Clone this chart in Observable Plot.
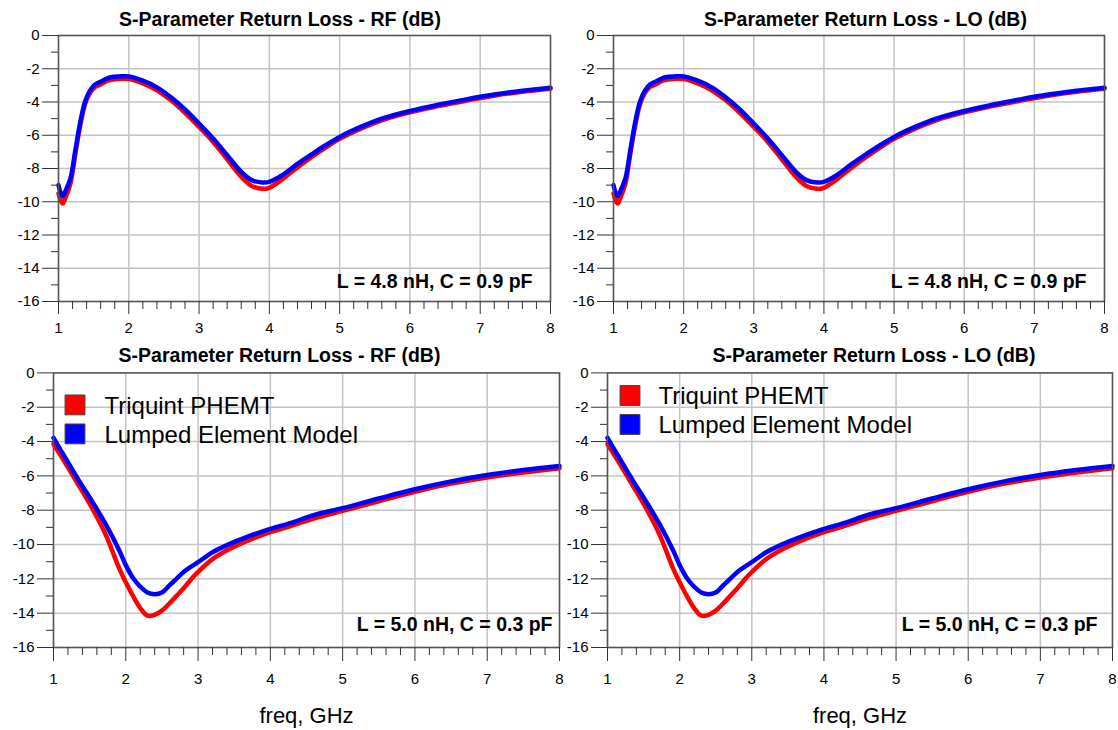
<!DOCTYPE html>
<html><head><meta charset="utf-8">
<script src="https://cdn.jsdelivr.net/npm/d3@7"></script>
<script src="https://cdn.jsdelivr.net/npm/@observablehq/plot@0.6"></script>
<style>
body{margin:0;background:#fff;}
#wrap{position:relative;width:1118px;height:730px;overflow:hidden;background:#fff;}
#wrap svg{position:absolute;}
</style></head><body><div id="wrap"></div>
<script>
// ---- data ----
const seriesNames = ["Triquint PHEMT", "Lumped Element Model"];
const seriesColors = ["#ff0000", "#0000ff"];

// upper row: L = 4.8 nH, C = 0.9 pF
const topFreq = [1.0, 1.03, 1.06, 1.1, 1.17, 1.24, 1.31, 1.38, 1.45, 1.52, 1.6, 1.7, 1.8, 1.9, 2.0, 2.2, 2.4, 2.6, 2.8, 3.0, 3.2, 3.4, 3.6, 3.75, 3.9, 4.0, 4.2, 4.4, 4.6, 4.8, 5.0, 5.3, 5.6, 6.0, 6.4, 6.8, 7.2, 7.6, 8.0];
const topMeasured = [-9.5, -9.9, -10.1, -9.75, -8.9, -7.1, -5.4, -4.1, -3.45, -3.1, -2.94, -2.72, -2.64, -2.6, -2.62, -2.88, -3.3, -3.9, -4.65, -5.5, -6.4, -7.45, -8.5, -9.05, -9.22, -9.16, -8.6, -7.93, -7.32, -6.75, -6.22, -5.6, -5.1, -4.62, -4.25, -3.92, -3.62, -3.38, -3.2];
const topModel    = [-9.0, -9.45, -9.65, -9.35, -8.6, -6.9, -5.2, -3.95, -3.3, -2.95, -2.78, -2.56, -2.48, -2.45, -2.46, -2.72, -3.12, -3.72, -4.45, -5.3, -6.2, -7.2, -8.2, -8.7, -8.84, -8.8, -8.35, -7.72, -7.15, -6.6, -6.1, -5.5, -5.0, -4.54, -4.17, -3.84, -3.55, -3.32, -3.14];

// lower row: L = 5.0 nH, C = 0.3 pF
const botFreq = [1.0, 1.17, 1.35, 1.54, 1.72, 1.91, 2.0, 2.1, 2.2, 2.3, 2.4, 2.5, 2.6, 2.7, 2.8, 2.9, 3.0, 3.2, 3.44, 3.67, 4.0, 4.3, 4.6, 5.0, 5.5, 6.0, 6.5, 7.0, 7.5, 8.0];
const botMeasured = [-4.14, -5.3, -6.56, -7.92, -9.4, -11.4, -12.2, -13.0, -13.7, -14.15, -14.1, -13.85, -13.45, -13.0, -12.55, -12.05, -11.6, -10.85, -10.25, -9.8, -9.28, -8.9, -8.49, -8.04, -7.48, -6.93, -6.45, -6.1, -5.8, -5.55];
const botModel    = [-3.79, -5.0, -6.27, -7.53, -8.8, -10.35, -11.2, -11.95, -12.45, -12.8, -12.9, -12.8, -12.4, -12.0, -11.6, -11.3, -11.03, -10.45, -9.96, -9.57, -9.09, -8.72, -8.29, -7.88, -7.32, -6.78, -6.32, -5.95, -5.66, -5.42];

const xMajor = [1, 2, 3, 4, 5, 6, 7, 8];
const xMinor = [1.2,1.4,1.6,1.8,2.2,2.4,2.6,2.8,3.2,3.4,3.6,3.8,4.2,4.4,4.6,4.8,5.2,5.4,5.6,5.8,6.2,6.4,6.6,6.8,7.2,7.4,7.6,7.8];
const yMajor = [0, -2, -4, -6, -8, -10, -12, -14, -16];
const yMinor = [-1, -3, -5, -7, -9, -11, -13, -15];

const titles = ["S-Parameter Return Loss - RF (dB)", "S-Parameter Return Loss - LO (dB)"];
const notes = ["L = 4.8 nH, C = 0.9 pF", "L = 5.0 nH, C = 0.3 pF"];
const xLabel = "freq, GHz";

const FONT = "Arial, 'Liberation Sans', sans-serif";

const panels = [
  {title: titles[0], note: notes[0], freq: topFreq, a: topMeasured, b: topModel,
   left: 0, top: 0, width: 559, height: 345, mL: 58, mR: 9, mT: 35, mB: 44,
   titleDx: -24.5, titleDy: -10, noteDx: -18, noteDy: -14, xt: 13, xp: 8, legend: null, xlab: false},
  {title: titles[1], note: notes[0], freq: topFreq, a: topMeasured, b: topModel,
   left: 559, top: 0, width: 559, height: 345, mL: 54, mR: 14, mT: 35, mB: 44,
   titleDx: 6.5, titleDy: -10, noteDx: -18, noteDy: -14, xt: 13, xp: 8, legend: null, xlab: false},
  {title: titles[0], note: notes[1], freq: botFreq, a: botMeasured, b: botModel,
   left: 0, top: 336, width: 580, height: 394, mL: 53, mR: 21, mT: 36.4, mB: 83,
   titleDx: -27, titleDy: -11.4, noteDx: -7, noteDy: -17, xt: 14, xp: 12,
   legend: {sx: 21.5, sy: [32, 61], tx: 51, ty: [40.6, 69.6]}, xlab: true},
  {title: titles[1], note: notes[1], freq: botFreq, a: botMeasured, b: botModel,
   left: 540, top: 336, width: 578, height: 394, mL: 67, mR: 6, mT: 36.4, mB: 83,
   titleDx: 14, titleDy: -11.4, noteDx: -15, noteDy: -17, xt: 14, xp: 12,
   legend: {sx: 22.5, sy: [22.6, 51.6], tx: 51, ty: [30.6, 59.6]}, xlab: true}
];

const wrap = document.getElementById("wrap");
const gridStyle = {stroke: "#c4c4c4", strokeOpacity: 1, strokeWidth: 1.5};

for (const p of panels) {
  const measured = p.freq.map((f, i) => ({f, v: p.a[i]}));
  const model = p.freq.map((f, i) => ({f, v: p.b[i]}));
  const marks = [
    Plot.gridX({ticks: xMajor, ...gridStyle}),
    Plot.gridY({ticks: yMajor, ...gridStyle}),
    Plot.line(measured, {x: "f", y: "v", stroke: seriesColors[0], strokeWidth: 4.5, curve: "catmull-rom"}),
    Plot.line(model, {x: "f", y: "v", stroke: seriesColors[1], strokeWidth: 4.5, curve: "catmull-rom"}),
    Plot.frame({stroke: "#555", strokeWidth: 1.5}),
    Plot.axisY({ticks: yMajor, tickSize: 16, tickPadding: 3, tickFormat: d => String(d), label: null, stroke: "#333", fontSize: 15}),
    Plot.axisY({ticks: yMinor, tickSize: 7, tickFormat: () => "", label: null, stroke: "#333"}),
    Plot.axisX({ticks: xMajor, tickSize: p.xt, tickPadding: p.xp, tickFormat: d => String(d), label: null, stroke: "#333", fontSize: 15}),
    Plot.axisX({ticks: xMinor, tickSize: 8, tickFormat: () => "", label: null, stroke: "#333"}),
    Plot.text([p.title], {text: d => d, frameAnchor: "top", dx: p.titleDx, dy: p.titleDy, lineAnchor: "bottom", fontWeight: "bold", fontSize: 19.5}),
    Plot.text([p.note], {text: d => d, frameAnchor: "bottom-right", dx: p.noteDx, dy: p.noteDy, textAnchor: "end", lineAnchor: "bottom", fontWeight: "bold", fontSize: 19.5})
  ];
  if (p.xlab) {
    marks.push(Plot.text([xLabel], {text: d => d, frameAnchor: "bottom", dy: 75, lineAnchor: "bottom", fontSize: 22}));
  }
  if (p.legend) {
    const L = p.legend;
    seriesNames.forEach((name, i) => {
      marks.push(Plot.dot([name], {frameAnchor: "top-left", dx: L.sx, dy: L.sy[i], symbol: "square", r: 11.2, fill: seriesColors[i], stroke: "#444", strokeWidth: 1}));
      marks.push(Plot.text([name], {text: d => d, frameAnchor: "top-left", dx: L.tx, dy: L.ty[i], textAnchor: "start", lineAnchor: "bottom", fontSize: 24}));
    });
  }
  const svg = Plot.plot({
    width: p.width, height: p.height,
    marginLeft: p.mL, marginRight: p.mR, marginTop: p.mT, marginBottom: p.mB,
    x: {domain: [1, 8]},
    y: {domain: [-16, 0]},
    style: {background: "transparent", overflow: "visible", maxWidth: "none", fontFamily: FONT, fontSize: "15px", color: "#000"},
    marks
  });
  svg.style.left = p.left + "px";
  svg.style.top = p.top + "px";
  wrap.appendChild(svg);
}
</script>
</body></html>
